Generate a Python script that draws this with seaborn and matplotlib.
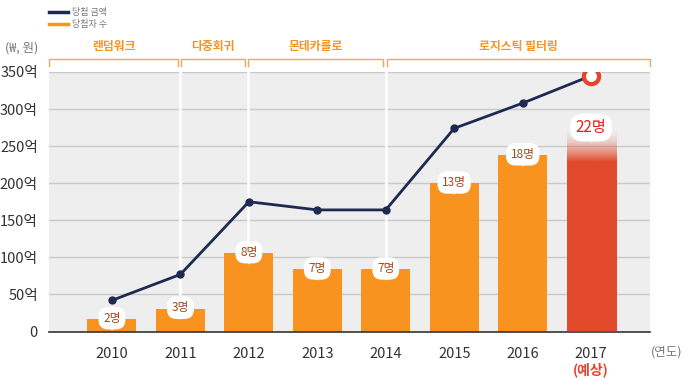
import numpy as np
import pandas as pd
import matplotlib
matplotlib.use("Agg")
import matplotlib.pyplot as plt
import seaborn as sns
from matplotlib.colors import to_rgb

# ---------------- data ----------------
years = ["2010", "2011", "2012", "2013", "2014", "2015", "2016", "2017"]
winners = [2, 3, 8, 7, 7, 13, 18, 22]                       # 당첨자 수 (명)
winner_bar = [17, 31, 106, 84, 84, 200, 238, 272]            # bar heights (억 scale)
prize = [42, 77, 175, 164, 164, 274, 308, 345]               # 당첨 금액 (억)
kind = ["actual"] * 7 + ["forecast"]
y_ticks = [0, 50, 100, 150, 200, 250, 300, 350]
y_tick_labels = ["0", "50억", "100억", "150억", "200억", "250억", "300억", "350억"]
methods = ["랜덤워크", "다중회귀", "몬테카를로", "로지스틱 필터링"]
method_spans = [(-0.92, 0.965), (1.01, 1.94), (1.985, 3.96), (4.02, 7.86)]
separators = [1.0, 1.98, 4.0]

ORANGE = "#F7931E"
RED = "#E24A2B"
NAVY = "#1E2A52"
BROWN = "#A8461B"
GRAY_TXT = "#333333"

plt.rcParams["font.family"] = ["Noto Sans CJK KR", "DejaVu Sans"]

fig = plt.figure(figsize=(6.83, 3.79), dpi=100)
ax = fig.add_axes([49 / 683, 1 - 331.5 / 379, 601 / 683, 259.5 / 379])
ax.set_facecolor("#EEEEEE")

df = pd.DataFrame({"year": years, "bar": winner_bar, "kind": kind})
sns.barplot(data=df, x="year", y="bar", hue="kind",
            palette={"actual": ORANGE, "forecast": RED},
            width=0.716, dodge=False, legend=False, saturation=1,
            ax=ax, zorder=3)

# gradient for the forecast bar
for p in ax.patches:
    cx = p.get_x() + p.get_width() / 2
    if abs(cx - 7) < 0.01:
        x0, w, h = p.get_x(), p.get_width(), p.get_height()
        p.set_alpha(0)
        n = 200
        yy = np.linspace(0, 1, n)
        alpha = np.clip((1.0 - yy) / 0.16, 0, 1)
        alpha = alpha ** 1.6
        img = np.zeros((n, 2, 4))
        img[..., :3] = to_rgb(RED)
        img[..., 3] = alpha[:, None]
        ax.imshow(img, extent=[x0, x0 + w, 0, h], origin="lower",
                  aspect="auto", zorder=3, interpolation="bilinear")

# line
xpos = np.arange(len(years))
sns.lineplot(x=xpos, y=prize, color=NAVY, lw=2.0, marker="o", markersize=6,
             markeredgewidth=0, ax=ax, zorder=5)
ax.plot(xpos[-1], prize[-1], marker="o", ms=11, mfc="white", mec="#E5432A",
        mew=3, zorder=6)

# grid / separators
for yv in y_ticks[1:]:
    ax.axhline(yv, color="#C9C9C9", lw=1, zorder=1)
for xs in separators:
    ax.axvline(xs, color="white", lw=1.8, zorder=2)

# bubble labels
for i, (v, c) in enumerate(zip(winner_bar, winners)):
    if i < 7:
        ax.text(i, v + 1, f"{c}명", ha="center", va="center", fontsize=8.5,
                color=BROWN, zorder=8,
                bbox=dict(boxstyle="round,pad=0.4,rounding_size=0.8",
                          fc="white", ec="none"))
        ax.plot(i, v - 12, marker="v", color="white", ms=5, mew=0, zorder=7)
    else:
        ax.text(i, v + 3, f"{c}명", ha="center", va="center", fontsize=11,
                color="#E0251A", zorder=8,
                bbox=dict(boxstyle="round,pad=0.35,rounding_size=0.8",
                          fc="white", ec="none"))
        ax.plot(i, v - 14, marker="v", color="white", ms=5, mew=0, zorder=7)

ax.set_xlim(-0.92, 7.86)
ax.set_ylim(0, 350)
ax.set_yticks(y_ticks)
ax.set_yticklabels(y_tick_labels)
ax.set_xlabel("")
ax.set_ylabel("")
for s in ["top", "left", "right"]:
    ax.spines[s].set_visible(False)
ax.spines["bottom"].set_color("#333333")
ax.spines["bottom"].set_linewidth(1.2)
ax.spines["bottom"].set_zorder(9)
ax.tick_params(axis="both", length=0, colors=GRAY_TXT, labelsize=10.5)
ax.tick_params(axis="x", pad=11)
ax.tick_params(axis="y", pad=8)

# (예상) under 2017
fig.text(591 / 683, 1 - 370 / 379, "(예상)", ha="center", va="center",
         fontsize=10, color="#E5432A", fontweight="bold")
fig.text(667 / 683, 1 - 352 / 379, "(연도)", ha="center", va="center",
         fontsize=9, color="#777777")
fig.text(22 / 683, 1 - 48 / 379, "(₩, 원)", ha="center", va="center",
         fontsize=9, color="#777777")

# brackets
tr = ax.get_xaxis_transform()
for name, (a, b) in zip(methods, method_spans):
    y_top = 1 + 12.5 / 259.5
    y_leg = 1 + 6 / 259.5
    ax.plot([a, a, b, b], [y_leg, y_top, y_top, y_leg], transform=tr,
            color="#F5A45A", lw=1, clip_on=False, solid_joinstyle="miter")
    ax.text((a + b) / 2, 1 + 25 / 259.5, name, transform=tr, ha="center",
            va="center", fontsize=8.5, color=ORANGE, fontweight="bold")

# legend
fig.add_artist(plt.Line2D([49 / 683, 68 / 683], [1 - 12 / 379, 1 - 12 / 379],
                          color=NAVY, lw=2.5))
fig.add_artist(plt.Line2D([49 / 683, 68 / 683], [1 - 24 / 379, 1 - 24 / 379],
                          color=ORANGE, lw=2.5))
fig.text(72 / 683, 1 - 12 / 379, "당첨 금액", va="center", fontsize=6.5,
         color="#777777")
fig.text(72 / 683, 1 - 24 / 379, "당첨자 수", va="center", fontsize=6.5,
         color="#777777")

fig.savefig("out.png", dpi=100)
